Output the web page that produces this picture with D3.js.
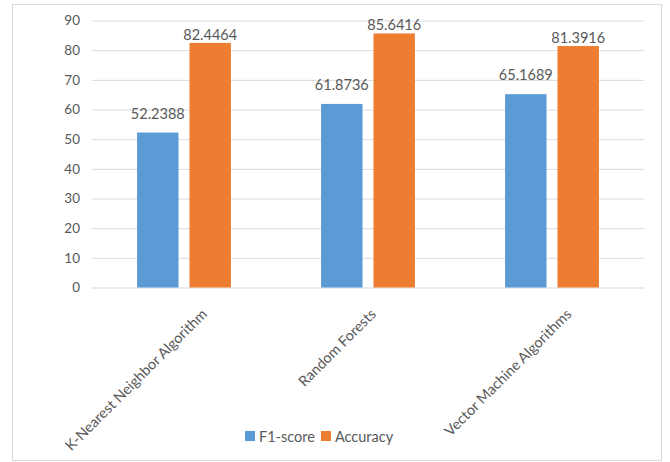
<!DOCTYPE html>
<html>
<head>
<meta charset="utf-8">
<script src="https://cdn.jsdelivr.net/npm/d3@7"></script>
<style>
  html, body { margin: 0; padding: 0; background: #fff; }
  svg { display: block; font-family: Lato, "Open Sans", sans-serif; }
</style>
</head>
<body>
<svg id="chart" width="670" height="462"></svg>
<script>
// Model comparison: F1-score vs accuracy per algorithm
const categories = ["K-Nearest Neighbor Algorithm", "Random Forests", "Vector Machine Algorithms"];
const seriesNames = ["F1-score", "Accuracy"];
const f1Score = [52.2388, 61.8736, 65.1689];
const accuracy = [82.4464, 85.6416, 81.3916];
const yTicks = [0, 10, 20, 30, 40, 50, 60, 70, 80, 90];
const colors = ["#5B9BD5", "#ED7D31"];

const values = [f1Score, accuracy];
const rows = categories.map((c, i) => ({
  category: c,
  items: seriesNames.map((s, j) => ({ series: s, value: values[j][i] }))
}));

const svg = d3.select("#chart");
const textColor = "#595959";
const gridColor = "#D9D9D9";

// outer chart frame
svg.append("rect")
  .attr("x", 12.5).attr("y", 4.5)
  .attr("width", 649).attr("height", 456)
  .attr("fill", "#fff").attr("stroke", gridColor).attr("stroke-width", 1);

const plot = { left: 92, right: 644, top: 20.5, bottom: 287.5 };

const x0 = d3.scaleBand()
  .domain(categories)
  .range([plot.left, plot.right])
  .paddingInner(0.49)
  .paddingOuter(0.245);

const x1 = d3.scaleBand()
  .domain(seriesNames)
  .range([0, x0.bandwidth()])
  .paddingInner(0.21);

const y = d3.scaleLinear().domain([0, 90]).range([plot.bottom, plot.top]);

// gridlines + value axis labels
const yAxis = d3.axisLeft(y)
  .tickValues(yTicks)
  .tickSize(-(plot.right - plot.left))
  .tickPadding(12)
  .tickFormat(d3.format("d"));

const yg = svg.append("g")
  .attr("transform", `translate(${plot.left},0)`)
  .call(yAxis);
yg.select(".domain").remove();
yg.selectAll(".tick line").attr("stroke", gridColor).attr("stroke-width", 1);
yg.selectAll(".tick text")
  .attr("fill", textColor)
  .style("font-size", "13.5px")
  .style("font-family", "Lato, sans-serif");

// bars
const groups = svg.append("g").selectAll("g")
  .data(rows)
  .join("g")
  .attr("transform", d => `translate(${x0(d.category)},0)`);

groups.selectAll("rect")
  .data(d => d.items)
  .join("rect")
  .attr("x", d => x1(d.series))
  .attr("y", d => y(d.value))
  .attr("width", x1.bandwidth())
  .attr("height", d => y(0) - y(d.value))
  .attr("fill", (d, i) => colors[i]);

// value labels above bars (F1 labels sit a little higher)
const labelLift = { "F1-score": 14, "Accuracy": 3 };
groups.selectAll("text.val")
  .data(d => d.items)
  .join("text")
  .attr("class", "val")
  .attr("x", d => x1(d.series) + x1.bandwidth() / 2)
  .attr("y", d => y(d.value) - labelLift[d.series])
  .attr("text-anchor", "middle")
  .attr("fill", textColor)
  .style("font-size", "14.5px")
  .text(d => d.value.toFixed(4));

// rotated category labels
const catG = svg.append("g");
catG.selectAll("text")
  .data(categories)
  .join("text")
  .attr("text-anchor", "end")
  .attr("fill", textColor)
  .style("font-size", "14.5px")
  .text(d => d)
  .each(function (d) {
    const len = this.getComputedTextLength();
    const cx = x0(d) + x0.bandwidth() / 2;
    const ex = cx - 8 + 0.165 * len;
    d3.select(this).attr("transform", `translate(${ex},315) rotate(-45)`);
  });

// legend
const legendItems = seriesNames.map((s, i) => ({ name: s, color: colors[i] }));
const legend = svg.append("g");
let lx = 245;
legendItems.forEach(item => {
  legend.append("rect")
    .attr("x", lx).attr("y", 431)
    .attr("width", 10).attr("height", 10)
    .attr("fill", item.color);
  const t = legend.append("text")
    .attr("x", lx + 14).attr("y", 441.5)
    .attr("fill", textColor)
    .style("font-size", "14.5px")
    .text(item.name);
  lx += 14 + t.node().getComputedTextLength() + 6;
});
</script>
</body>
</html>
